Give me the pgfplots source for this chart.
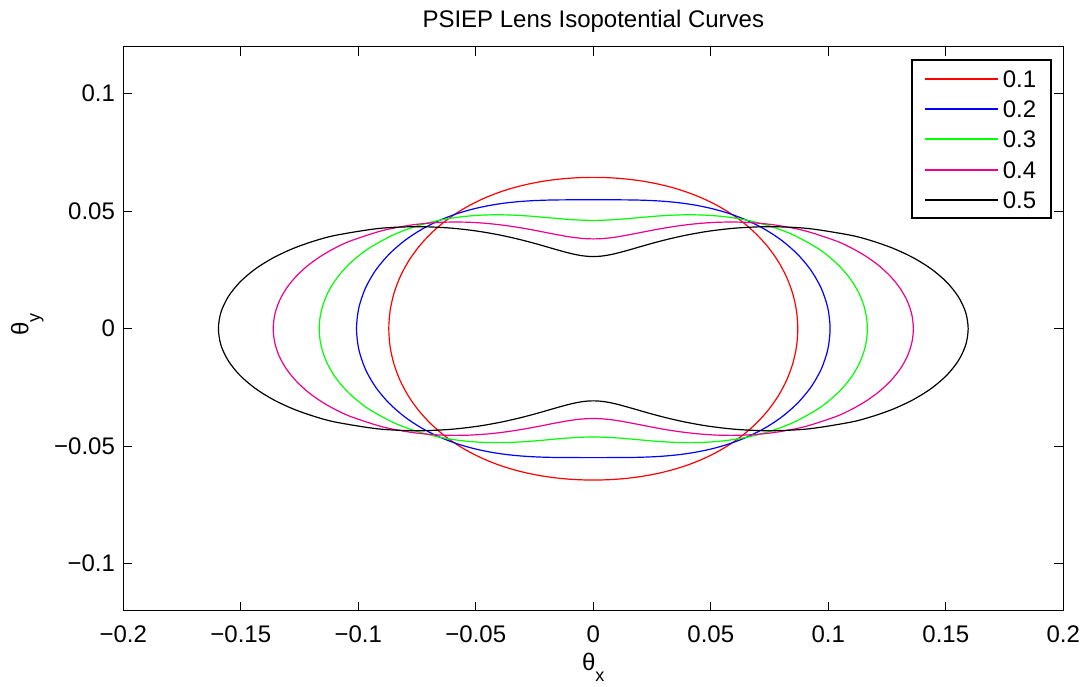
\documentclass[border=0pt]{standalone}
\usepackage{fontspec}
\setmainfont{Liberation Sans}
\usepackage{pgfplots}
\pgfplotsset{compat=1.18}
\begin{document}
\fontsize{12}{14}\selectfont
\begin{tikzpicture}[font=\fontsize{12}{14}\selectfont]
\begin{axis}[
  scale only axis, width=470pt, height=282pt,
  xmin=-0.2, xmax=0.2, ymin=-0.12, ymax=0.12,
  xtick={-0.2,-0.15,-0.1,-0.05,0,0.05,0.1,0.15,0.2},
  xticklabels={−0.2,−0.15,−0.1,−0.05,0,0.05,0.1,0.15,0.2},
  ytick={-0.1,-0.05,0,0.05,0.1},
  yticklabels={−0.1,−0.05,0,0.05,0.1},
  tick align=inside, tick pos=both, major tick length=4.5pt,
  axis line style={line width=0.65pt},
  every tick/.style={black, line width=0.5pt},
  xticklabel style={yshift=-3.15pt},
  title={PSIEP Lens Isopotential Curves},
  title style={at={([yshift=3.4pt]axis description cs:0.5,1)}, anchor=base},
  xlabel={θ\raisebox{-5.8pt}{\fontsize{9}{10}\selectfont x}},
  xlabel style={at={([yshift=-29.65pt]axis description cs:0.5,0)}, anchor=base},
  ylabel={θ\raisebox{-5.8pt}{\fontsize{9}{10}\selectfont y}},
  ylabel style={at={([xshift=-47.5pt]axis description cs:0,0.508)}, anchor=base},
  legend image code/.code={\draw[#1, line width=1pt] (0pt,0pt) -- (36.3pt,0pt);},
  legend cell align=left,
  legend style={at={(axis description cs:1,1)}, anchor=north east, xshift=-6.15pt, yshift=-6.65pt,
    draw=none, fill=none, inner xsep=5.2pt, inner ysep=1.7pt,
    nodes={inner xsep=2pt, inner ysep=0pt, text height=11.85pt, text depth=3.25pt},
    /tikz/every even column/.append style={column sep=1.2pt}},
]
\draw[line width=0.9pt, black] (axis description cs:0.8394,0.6968) rectangle (axis description cs:0.9869,0.9764);
\addplot[draw=red, line width=0.6pt, smooth] coordinates {
(0.00563,0.06429) (0,0.06440)
(-0.00563,0.06429) (-0.01128,0.06395) (-0.01698,0.06336) (-0.02275,0.06250) (-0.02860,0.06133) (-0.03453,0.05981) (-0.04052,0.05787) (-0.04654,0.05547) (-0.05254,0.05254) (-0.05843,0.04903) (-0.06413,0.04490) (-0.06949,0.04012) (-0.07440,0.03469) (-0.07869,0.02864) (-0.08221,0.02203) (-0.08485,0.01496) (-0.08647,0.00757) (-0.08702,0)
(-0.08647,-0.00757) (-0.08485,-0.01496) (-0.08221,-0.02203) (-0.07869,-0.02864) (-0.07440,-0.03469) (-0.06949,-0.04012) (-0.06413,-0.04490) (-0.05843,-0.04903) (-0.05254,-0.05254) (-0.04654,-0.05547) (-0.04052,-0.05787) (-0.03453,-0.05981) (-0.02860,-0.06133) (-0.02275,-0.06250) (-0.01698,-0.06336) (-0.01128,-0.06395) (-0.00563,-0.06429) (0,-0.06440)
(0.00563,-0.06429) (0.01128,-0.06395) (0.01698,-0.06336) (0.02275,-0.06250) (0.02860,-0.06133) (0.03453,-0.05981) (0.04052,-0.05787) (0.04654,-0.05547) (0.05254,-0.05254) (0.05843,-0.04903) (0.06413,-0.04490) (0.06949,-0.04012) (0.07440,-0.03469) (0.07869,-0.02864) (0.08221,-0.02203) (0.08485,-0.01496) (0.08647,-0.00757) (0.08702,0)
(0.08647,0.00757) (0.08485,0.01496) (0.08221,0.02203) (0.07869,0.02864) (0.07440,0.03469) (0.06949,0.04012) (0.06413,0.04490) (0.05843,0.04903) (0.05254,0.05254) (0.04654,0.05547) (0.04052,0.05787) (0.03453,0.05981) (0.02860,0.06133) (0.02275,0.06250) (0.01698,0.06336) (0.01128,0.06395) (0.00563,0.06429) (0,0.06440)
(-0.00563,0.06429)
};
\addlegendentry{0.1}
\addplot[draw=blue, line width=0.6pt, smooth] coordinates {
(0.00480,0.05485) (0,0.05485)
(-0.00480,0.05485) (-0.00967,0.05484) (-0.01469,0.05481) (-0.01991,0.05471) (-0.02542,0.05450) (-0.03125,0.05412) (-0.03745,0.05348) (-0.04403,0.05247) (-0.05098,0.05098) (-0.05824,0.04887) (-0.06568,0.04599) (-0.07313,0.04222) (-0.08033,0.03746) (-0.08695,0.03165) (-0.09264,0.02482) (-0.09703,0.01711) (-0.09981,0.00873) (-0.10076,0)
(-0.09981,-0.00873) (-0.09703,-0.01711) (-0.09264,-0.02482) (-0.08695,-0.03165) (-0.08033,-0.03746) (-0.07313,-0.04222) (-0.06568,-0.04599) (-0.05824,-0.04887) (-0.05098,-0.05098) (-0.04403,-0.05247) (-0.03745,-0.05348) (-0.03125,-0.05412) (-0.02542,-0.05450) (-0.01991,-0.05471) (-0.01469,-0.05481) (-0.00967,-0.05484) (-0.00480,-0.05485) (0,-0.05485)
(0.00480,-0.05485) (0.00967,-0.05484) (0.01469,-0.05481) (0.01991,-0.05471) (0.02542,-0.05450) (0.03125,-0.05412) (0.03745,-0.05348) (0.04403,-0.05247) (0.05098,-0.05098) (0.05824,-0.04887) (0.06568,-0.04599) (0.07313,-0.04222) (0.08033,-0.03746) (0.08695,-0.03165) (0.09264,-0.02482) (0.09703,-0.01711) (0.09981,-0.00873) (0.10076,0)
(0.09981,0.00873) (0.09703,0.01711) (0.09264,0.02482) (0.08695,0.03165) (0.08033,0.03746) (0.07313,0.04222) (0.06568,0.04599) (0.05824,0.04887) (0.05098,0.05098) (0.04403,0.05247) (0.03745,0.05348) (0.03125,0.05412) (0.02542,0.05450) (0.01991,0.05471) (0.01469,0.05481) (0.00967,0.05484) (0.00480,0.05485) (0,0.05485)
(-0.00480,0.05485)
};
\addlegendentry{0.2}
\addplot[draw=green, line width=0.6pt, smooth] coordinates {
(0.00404,0.04615) (0,0.04608)
(-0.00404,0.04615) (-0.00817,0.04634) (-0.01250,0.04666) (-0.01713,0.04706) (-0.02216,0.04751) (-0.02769,0.04796) (-0.03384,0.04832) (-0.04068,0.04848) (-0.04830,0.04830) (-0.05669,0.04757) (-0.06581,0.04608) (-0.07548,0.04358) (-0.08536,0.03980) (-0.09495,0.03456) (-0.09944,0.03135) (-0.10360,0.02776) (-0.10733,0.02379) (-0.11054,0.01949) (-0.11314,0.01490) (-0.11505,0.01007) (-0.11623,0.00508) (-0.11662,0)
(-0.11623,-0.00508) (-0.11505,-0.01007) (-0.11314,-0.01490) (-0.11054,-0.01949) (-0.10733,-0.02379) (-0.10360,-0.02776) (-0.09944,-0.03135) (-0.09495,-0.03456) (-0.08536,-0.03980) (-0.07548,-0.04358) (-0.06581,-0.04608) (-0.05669,-0.04757) (-0.04830,-0.04830) (-0.04068,-0.04848) (-0.03384,-0.04832) (-0.02769,-0.04796) (-0.02216,-0.04751) (-0.01713,-0.04706) (-0.01250,-0.04666) (-0.00817,-0.04634) (-0.00404,-0.04615) (0,-0.04608)
(0.00404,-0.04615) (0.00817,-0.04634) (0.01250,-0.04666) (0.01713,-0.04706) (0.02216,-0.04751) (0.02769,-0.04796) (0.03384,-0.04832) (0.04068,-0.04848) (0.04830,-0.04830) (0.05669,-0.04757) (0.06581,-0.04608) (0.07548,-0.04358) (0.08536,-0.03980) (0.09495,-0.03456) (0.09944,-0.03135) (0.10360,-0.02776) (0.10733,-0.02379) (0.11054,-0.01949) (0.11314,-0.01490) (0.11505,-0.01007) (0.11623,-0.00508) (0.11662,0)
(0.11623,0.00508) (0.11505,0.01007) (0.11314,0.01490) (0.11054,0.01949) (0.10733,0.02379) (0.10360,0.02776) (0.09944,0.03135) (0.09495,0.03456) (0.08536,0.03980) (0.07548,0.04358) (0.06581,0.04608) (0.05669,0.04757) (0.04830,0.04830) (0.04068,0.04848) (0.03384,0.04832) (0.02769,0.04796) (0.02216,0.04751) (0.01713,0.04706) (0.01250,0.04666) (0.00817,0.04634) (0.00404,0.04615) (0,0.04608)
(-0.00404,0.04615)
};
\addlegendentry{0.3}
\addplot[draw=magenta, line width=0.6pt, smooth] coordinates {
(0.00335,0.03832) (0,0.03821)
(-0.00335,0.03832) (-0.00681,0.03863) (-0.01049,0.03914) (-0.01450,0.03984) (-0.01898,0.04070) (-0.02408,0.04170) (-0.02996,0.04278) (-0.03679,0.04384) (-0.04476,0.04476) (-0.05402,0.04533) (-0.06466,0.04527) (-0.07661,0.04423) (-0.08960,0.04178) (-0.10298,0.03748) (-0.10951,0.03453) (-0.11572,0.03101) (-0.12142,0.02692) (-0.12643,0.02229) (-0.13056,0.01719) (-0.13365,0.01169) (-0.13555,0.00592) (-0.13620,0)
(-0.13555,-0.00592) (-0.13365,-0.01169) (-0.13056,-0.01719) (-0.12643,-0.02229) (-0.12142,-0.02692) (-0.11572,-0.03101) (-0.10951,-0.03453) (-0.10298,-0.03748) (-0.08960,-0.04178) (-0.07661,-0.04423) (-0.06466,-0.04527) (-0.05402,-0.04533) (-0.04476,-0.04476) (-0.03679,-0.04384) (-0.02996,-0.04278) (-0.02408,-0.04170) (-0.01898,-0.04070) (-0.01450,-0.03984) (-0.01049,-0.03914) (-0.00681,-0.03863) (-0.00335,-0.03832) (0,-0.03821)
(0.00335,-0.03832) (0.00681,-0.03863) (0.01049,-0.03914) (0.01450,-0.03984) (0.01898,-0.04070) (0.02408,-0.04170) (0.02996,-0.04278) (0.03679,-0.04384) (0.04476,-0.04476) (0.05402,-0.04533) (0.06466,-0.04527) (0.07661,-0.04423) (0.08960,-0.04178) (0.10298,-0.03748) (0.10951,-0.03453) (0.11572,-0.03101) (0.12142,-0.02692) (0.12643,-0.02229) (0.13056,-0.01719) (0.13365,-0.01169) (0.13555,-0.00592) (0.13620,0)
(0.13555,0.00592) (0.13365,0.01169) (0.13056,0.01719) (0.12643,0.02229) (0.12142,0.02692) (0.11572,0.03101) (0.10951,0.03453) (0.10298,0.03748) (0.08960,0.04178) (0.07661,0.04423) (0.06466,0.04527) (0.05402,0.04533) (0.04476,0.04476) (0.03679,0.04384) (0.02996,0.04278) (0.02408,0.04170) (0.01898,0.04070) (0.01450,0.03984) (0.01049,0.03914) (0.00681,0.03863) (0.00335,0.03832) (0,0.03821)
(-0.00335,0.03832)
};
\addlegendentry{0.4}
\addplot[draw=black, line width=0.6pt, smooth] coordinates {
(0.00270,0.03082) (0,0.03070)
(-0.00270,0.03082) (-0.00550,0.03117) (-0.00851,0.03176) (-0.01186,0.03259) (-0.01569,0.03365) (-0.02018,0.03495) (-0.02553,0.03646) (-0.03200,0.03813) (-0.03988,0.03988) (-0.04951,0.04155) (-0.06121,0.04286) (-0.07520,0.04342) (-0.09144,0.04264) (-0.10936,0.03980) (-0.11856,0.03738) (-0.12761,0.03419) (-0.13616,0.03019) (-0.14389,0.02537) (-0.15041,0.01980) (-0.15536,0.01359) (-0.15847,0.00692) (-0.15952,0)
(-0.15847,-0.00692) (-0.15536,-0.01359) (-0.15041,-0.01980) (-0.14389,-0.02537) (-0.13616,-0.03019) (-0.12761,-0.03419) (-0.11856,-0.03738) (-0.10936,-0.03980) (-0.09144,-0.04264) (-0.07520,-0.04342) (-0.06121,-0.04286) (-0.04951,-0.04155) (-0.03988,-0.03988) (-0.03200,-0.03813) (-0.02553,-0.03646) (-0.02018,-0.03495) (-0.01569,-0.03365) (-0.01186,-0.03259) (-0.00851,-0.03176) (-0.00550,-0.03117) (-0.00270,-0.03082) (0,-0.03070)
(0.00270,-0.03082) (0.00550,-0.03117) (0.00851,-0.03176) (0.01186,-0.03259) (0.01569,-0.03365) (0.02018,-0.03495) (0.02553,-0.03646) (0.03200,-0.03813) (0.03988,-0.03988) (0.04951,-0.04155) (0.06121,-0.04286) (0.07520,-0.04342) (0.09144,-0.04264) (0.10936,-0.03980) (0.11856,-0.03738) (0.12761,-0.03419) (0.13616,-0.03019) (0.14389,-0.02537) (0.15041,-0.01980) (0.15536,-0.01359) (0.15847,-0.00692) (0.15952,0)
(0.15847,0.00692) (0.15536,0.01359) (0.15041,0.01980) (0.14389,0.02537) (0.13616,0.03019) (0.12761,0.03419) (0.11856,0.03738) (0.10936,0.03980) (0.09144,0.04264) (0.07520,0.04342) (0.06121,0.04286) (0.04951,0.04155) (0.03988,0.03988) (0.03200,0.03813) (0.02553,0.03646) (0.02018,0.03495) (0.01569,0.03365) (0.01186,0.03259) (0.00851,0.03176) (0.00550,0.03117) (0.00270,0.03082) (0,0.03070)
(-0.00270,0.03082)
};
\addlegendentry{0.5}
\coordinate (sw) at (rel axis cs:0,0);
\coordinate (ne) at (rel axis cs:1,1);
\end{axis}
\pgfresetboundingbox
\useasboundingbox ([xshift=-61.65pt,yshift=-37.65pt]sw) rectangle ([xshift=13.85pt,yshift=23.35pt]ne);
\end{tikzpicture}
\end{document}
